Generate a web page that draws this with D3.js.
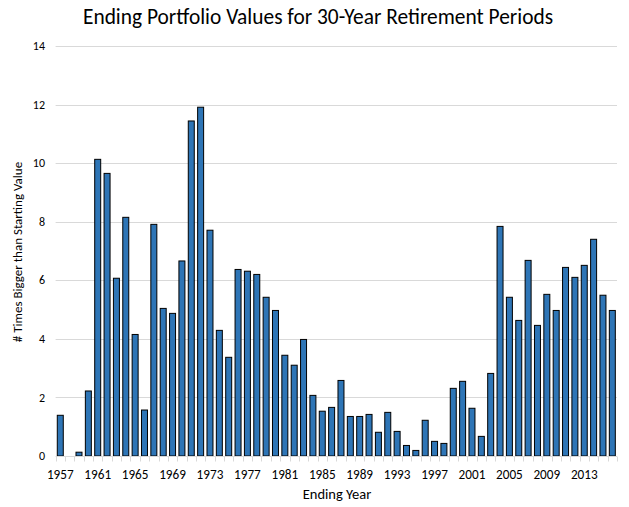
<!DOCTYPE html>
<html><head><meta charset="utf-8">
<script src="https://cdnjs.cloudflare.com/ajax/libs/d3/7.8.5/d3.min.js"></script>
<style>body{margin:0;background:#fff}</style>
</head><body>
<script>
const years = d3.range(1957, 2017);
const values = [1.39,0,0.13,2.22,10.13,9.65,6.07,8.15,4.15,1.57,
  7.91,5.04,4.87,6.66,11.44,11.91,7.71,4.29,3.37,6.37,
  6.31,6.20,5.42,4.97,3.44,3.10,3.98,2.07,1.53,1.66,
  2.58,1.35,1.35,1.42,0.81,1.49,0.84,0.36,0.19,1.22,
  0.50,0.43,2.31,2.55,1.63,0.67,2.82,7.84,5.42,4.63,
  6.68,4.46,5.52,4.97,6.44,6.10,6.51,7.40,5.49,4.97];
const yTicks = [0,2,4,6,8,10,12,14];
const xTickLabels = d3.range(1957, 2017, 4);
const title = "Ending Portfolio Values for 30-Year Retirement Periods";
const yTitle = "# Times Bigger than Starting Value";
const xTitle = "Ending Year";

const W = 629, H = 507;
const m = {left: 55.6, right: 12, top: 46, bottom: 51};
const font = "Carlito, Lato, 'Open Sans', sans-serif";
const svg = d3.select("body").append("svg").attr("width", W).attr("height", H)
  .style("font-family", font);

const x = d3.scaleBand().domain(years).range([m.left, W - m.right]).paddingInner(0.36).paddingOuter(0.18);
const y = d3.scaleLinear().domain([0, 14]).range([H - m.bottom, m.top]);

svg.append("g").selectAll("line").data(yTicks.filter(d => d > 0)).join("line")
  .attr("x1", m.left).attr("x2", W - m.right)
  .attr("y1", d => Math.round(y(d)) + 0.5).attr("y2", d => Math.round(y(d)) + 0.5)
  .attr("stroke", "#d9d9d9").attr("stroke-width", 1);

svg.append("g").selectAll("text").data(yTicks).join("text")
  .attr("x", 45).attr("y", d => y(d)).attr("dy", "0.35em")
  .attr("text-anchor", "end").attr("font-size", 12).attr("fill", "#000").text(d => d);

svg.append("g").selectAll("rect").data(years.map((yr, i) => ({yr, v: values[i]})).filter(d => d.v > 0)).join("rect")
  .attr("x", d => x(d.yr)).attr("width", x.bandwidth())
  .attr("y", d => y(d.v)).attr("height", d => y(0) - y(d.v))
  .attr("fill", "#2E75B6").attr("stroke", "#000").attr("stroke-width", 1);

// axis line and ticks
const step = x.step();
const base = Math.round(y(0)) + 0.5;
svg.append("line").attr("x1", m.left).attr("x2", W - m.right).attr("y1", base).attr("y2", base)
  .attr("stroke", "#d9d9d9");
svg.append("g").selectAll("line").data(d3.range(years.length + 1)).join("line")
  .attr("x1", i => Math.round(m.left + i * step) + 0.5).attr("x2", i => Math.round(m.left + i * step) + 0.5)
  .attr("y1", base).attr("y2", base + 5).attr("stroke", "#d9d9d9");

svg.append("g").selectAll("text").data(xTickLabels).join("text")
  .attr("x", d => x(d) + x.bandwidth() / 2).attr("y", 478.5)
  .attr("text-anchor", "middle").attr("font-size", 13.2).attr("fill", "#000").text(d => d);

svg.append("text").attr("x", 318).attr("y", 24).attr("text-anchor", "middle")
  .attr("font-size", 21.4).attr("fill", "#000").text(title);
svg.append("text").attr("x", 337).attr("y", 499).attr("text-anchor", "middle")
  .attr("font-size", 14.5).attr("fill", "#000").text(xTitle);
svg.append("text").attr("transform", "translate(22,252) rotate(-90)").attr("text-anchor", "middle")
  .attr("font-size", 13).attr("fill", "#000").text(yTitle);
</script>
</body></html>
